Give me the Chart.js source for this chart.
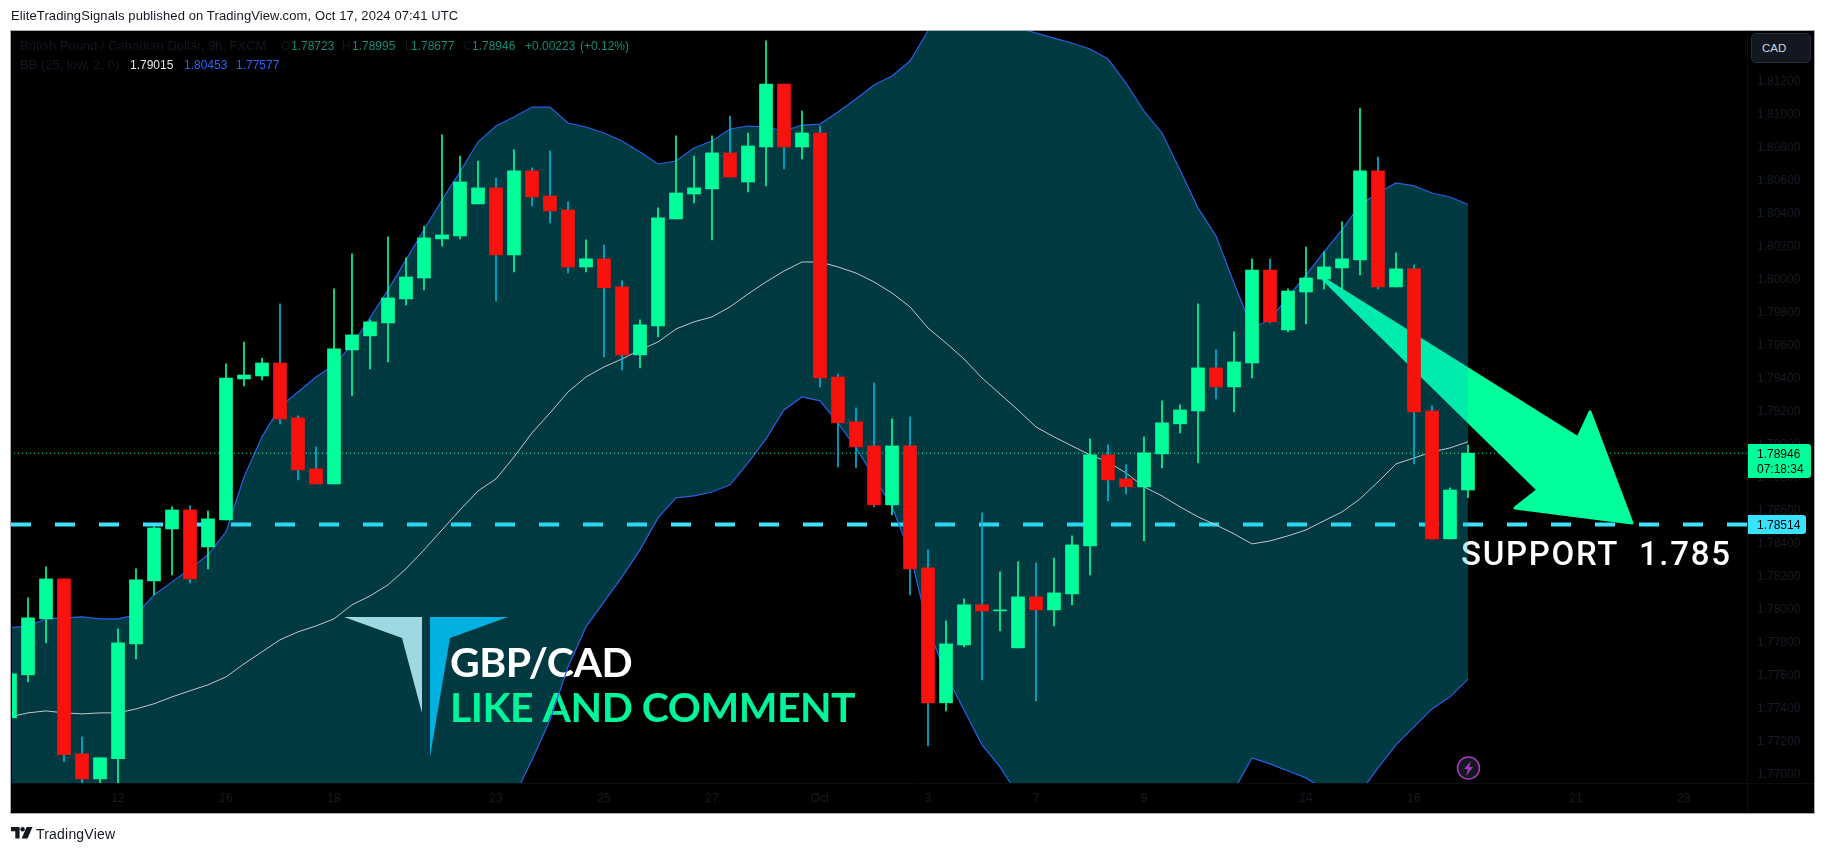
<!DOCTYPE html>
<html>
<head>
<meta charset="utf-8">
<title>GBP/CAD</title>
<script src="https://cdn.jsdelivr.net/npm/chart.js@4/dist/chart.umd.min.js"></script>
<style>
  html, body { margin: 0; padding: 0; background: #fff; overflow: hidden; }
  #wrap { position: relative; width: 1826px; height: 853px; font-family: "Liberation Sans", sans-serif; }
  #chart { position: absolute; left: 0; top: 0; }
  .t { position: absolute; white-space: pre; font-size: 12px; line-height: 16px; }
  .box { position: absolute; color: #000; font-size: 12px; }
  #cad { position: absolute; left: 1751px; top: 33px; width: 58px; height: 28px; background: #131722; border: 1px solid #2a2e39; border-radius: 5px; color: #d1d4dc; font-size: 11.5px; line-height: 28px; text-indent: 10px; }
  #tvlogo { position: absolute; left: 11px; top: 827px; }
</style>
</head>
<body>
<div id="wrap">
  <canvas id="chart" width="1826" height="853"></canvas>
  <div class="t" style="left:11px;top:8px;color:#131722;font-size:13px;letter-spacing:0.11px;">EliteTradingSignals published on TradingView.com, Oct 17, 2024 07:41 UTC</div>
  <div id="legend"></div>
  <div id="cad">CAD</div>
  <div class="box" style="left:1748px;top:444px;width:63px;height:34px;background:#00ff9b;border-radius:0 3px 3px 0;">
    <div style="position:absolute;left:9px;top:2px;line-height:16px;">1.78946</div>
    <div style="position:absolute;left:9px;top:17px;line-height:16px;">07:18:34</div>
  </div>
  <div class="box" style="left:1748px;top:515px;width:58px;height:19px;background:#38e3ff;border-radius:0 3px 3px 0;">
    <div style="position:absolute;left:9px;top:2px;line-height:16px;">1.78514</div>
  </div>
  <svg id="tvlogo" width="22" height="12" viewBox="0 0 22 12">
    <path d="M0 0h8.6v11.4H4.3V4.3H0z M15.6 0h5.9l-5 11.4H10.6z" fill="#131722"/>
    <circle cx="11.6" cy="2.2" r="2.2" fill="#131722"/>
  </svg>
  <div class="t" style="left:36px;top:826px;color:#131722;font-size:14px;letter-spacing:0.2px;">TradingView</div>
</div>
<script>
// GBP/CAD 9h candles
const opens = [1.77342,1.77603,1.77942,1.78184,1.77124,1.76972,1.77094,1.77790,1.78172,1.78487,1.78602,1.78378,1.78542,1.79396,1.79414,1.79493,1.79160,1.78851,1.78760,1.79572,1.79657,1.79736,1.79881,1.80008,1.80245,1.80263,1.80457,1.80554,1.80148,1.80657,1.80505,1.80420,1.80075,1.80124,1.79954,1.79542,1.79718,1.80366,1.80517,1.80548,1.80766,1.80590,1.80802,1.81184,1.80802,1.80887,1.79408,1.79136,1.78990,1.78633,1.78990,1.78251,1.77433,1.77784,1.78027,1.77990,1.77766,1.78075,1.77996,1.78093,1.78384,1.78936,1.78790,1.78742,1.78942,1.79124,1.79202,1.79463,1.79348,1.79493,1.80056,1.79693,1.79923,1.80002,1.80069,1.80118,1.80657,1.79954,1.80063,1.79202,1.78427,1.78723];
const highs = [1.77609,1.78069,1.78257,1.78184,1.77227,1.77100,1.77881,1.78245,1.78499,1.78621,1.78627,1.78596,1.79487,1.79620,1.79523,1.79851,1.79172,1.78984,1.79942,1.80154,1.79754,1.80257,1.80130,1.80323,1.80875,1.80747,1.80717,1.80614,1.80784,1.80675,1.80778,1.80469,1.80239,1.80208,1.79990,1.79754,1.80433,1.80869,1.80747,1.80869,1.80990,1.80887,1.81445,1.81184,1.81020,1.80929,1.79426,1.79221,1.79372,1.79154,1.79166,1.78360,1.77930,1.78063,1.78584,1.78227,1.78287,1.78281,1.78311,1.78445,1.79033,1.78996,1.78875,1.79045,1.79263,1.79239,1.79851,1.79572,1.79681,1.80124,1.80124,1.79942,1.80196,1.80166,1.80348,1.81038,1.80741,1.80160,1.80087,1.79233,1.78736,1.78995];
const lows = [1.77342,1.77560,1.77796,1.77076,1.76906,1.76900,1.76875,1.77699,1.78087,1.78208,1.78160,1.78245,1.78542,1.79354,1.79390,1.79124,1.78784,1.78760,1.78760,1.79293,1.79457,1.79499,1.79845,1.79936,1.80202,1.80245,1.80457,1.79869,1.80044,1.80445,1.80342,1.80038,1.80044,1.79529,1.79451,1.79463,1.79651,1.80366,1.80463,1.80239,1.80620,1.80529,1.80566,1.80669,1.80729,1.79348,1.78863,1.78857,1.78621,1.78572,1.78087,1.77172,1.77384,1.77772,1.77572,1.77869,1.77766,1.77445,1.77899,1.78027,1.78208,1.78657,1.78699,1.78415,1.78857,1.79069,1.78887,1.79275,1.79196,1.79402,1.79736,1.79681,1.79730,1.79942,1.79936,1.80026,1.79942,1.79954,1.78881,1.78427,1.78427,1.78677];
const closes = [1.77609,1.77948,1.78184,1.77118,1.76972,1.77100,1.77796,1.78178,1.78493,1.78602,1.78184,1.78548,1.79402,1.79420,1.79493,1.79154,1.78845,1.78760,1.79578,1.79663,1.79742,1.79887,1.80014,1.80251,1.80269,1.80590,1.80554,1.80148,1.80657,1.80499,1.80414,1.80075,1.80124,1.79948,1.79542,1.79724,1.80372,1.80523,1.80554,1.80766,1.80620,1.80808,1.81184,1.80802,1.80887,1.79402,1.79130,1.78984,1.78633,1.78990,1.78245,1.77433,1.77790,1.78027,1.77990,1.77996,1.78075,1.77996,1.78099,1.78390,1.78936,1.78784,1.78742,1.78948,1.79130,1.79208,1.79463,1.79348,1.79499,1.80056,1.79742,1.79929,1.80008,1.80075,1.80124,1.80657,1.79954,1.80063,1.79196,1.78427,1.78723,1.78946];

// Bollinger bands (25, low, 2, 0)
const bbUpper = [1.77887,1.77899,1.77942,1.77948,1.77954,1.77942,1.77942,1.77966,1.78087,1.78166,1.78245,1.78330,1.78469,1.78802,1.79045,1.79227,1.79317,1.79408,1.79481,1.79602,1.79766,1.79936,1.80118,1.80300,1.80481,1.80651,1.80832,1.80929,1.80984,1.81044,1.81044,1.80947,1.80923,1.80887,1.80838,1.80772,1.80699,1.80717,1.80796,1.80838,1.80911,1.80929,1.80923,1.80899,1.80935,1.80941,1.81014,1.81093,1.81178,1.81232,1.81323,1.81505,1.81626,1.81644,1.81626,1.81565,1.81523,1.81493,1.81462,1.81432,1.81396,1.81335,1.81190,1.81020,1.80887,1.80663,1.80433,1.80263,1.79978,1.79705,1.79754,1.79893,1.80026,1.80166,1.80300,1.80451,1.80523,1.80584,1.80566,1.80523,1.80499,1.80453];
const bbBasis = [1.77348,1.77372,1.77384,1.77372,1.77366,1.77372,1.77372,1.77396,1.77427,1.77469,1.77506,1.77542,1.77590,1.77669,1.77742,1.77815,1.77863,1.77899,1.77942,1.78027,1.78081,1.78148,1.78245,1.78360,1.78481,1.78602,1.78717,1.78790,1.78923,1.79069,1.79190,1.79317,1.79408,1.79469,1.79517,1.79572,1.79620,1.79699,1.79742,1.79772,1.79833,1.79911,1.79984,1.80050,1.80105,1.80105,1.80075,1.80038,1.79984,1.79917,1.79833,1.79705,1.79614,1.79517,1.79402,1.79305,1.79208,1.79105,1.79045,1.78990,1.78936,1.78893,1.78826,1.78742,1.78687,1.78621,1.78560,1.78511,1.78457,1.78396,1.78414,1.78445,1.78481,1.78536,1.78590,1.78669,1.78772,1.78881,1.78917,1.78954,1.78978,1.79015];
const bbLower = [1.76808,1.76845,1.76826,1.76796,1.76778,1.76802,1.76802,1.76826,1.76766,1.76772,1.76766,1.76754,1.76711,1.76535,1.76439,1.76402,1.76408,1.76390,1.76402,1.76450,1.76396,1.76360,1.76360,1.76420,1.76481,1.76553,1.76602,1.76650,1.76863,1.77087,1.77329,1.77650,1.77893,1.78045,1.78196,1.78360,1.78554,1.78675,1.78687,1.78711,1.78754,1.78887,1.79033,1.79208,1.79287,1.79263,1.79130,1.78978,1.78802,1.78621,1.78342,1.77887,1.77602,1.77390,1.77178,1.77045,1.76875,1.76754,1.76663,1.76572,1.76481,1.76445,1.76463,1.76463,1.76481,1.76572,1.76687,1.76784,1.76905,1.77099,1.77063,1.77020,1.76978,1.76905,1.76845,1.76887,1.77039,1.77178,1.77287,1.77396,1.77469,1.77577];

const priceTicks = [1.77,1.772,1.774,1.776,1.778,1.78,1.782,1.784,1.786,1.788,1.79,1.792,1.794,1.796,1.798,1.80,1.802,1.804,1.806,1.808,1.81,1.812];
const timeTickIndex = [6,12,18,27,33,39,45,51,57,63,72,78,87,93];
const timeTickLabels = ['12','16','18','23','25','27','Oct','3','7','9','14','16','21','23'];

const lastPrice = 1.78946;
const supportLevel = 1.78514;

// drawn arrow, in [candle index, price]
const arrowPoints = [[72.83,1.80014],[87.11,1.79039],[87.78,1.79196],[90.11,1.78523],[83.61,1.78614],[84.89,1.78723]];

// legend pieces: text, left, colour, font size
const legendRows = [
  [46, [['British Pound / Canadian Dollar, 9h, FXCM',20,'#131722',13],['O',281,'#131722',12],['1.78723',291,'#128a77',12],['H',342,'#131722',12],['1.78995',352,'#128a77',12],['L',405,'#131722',12],['1.78677',411,'#128a77',12],['C',463,'#131722',12],['1.78946',472,'#128a77',12],['+0.00223',525,'#128a77',12],['(+0.12%)',580,'#128a77',12]]],
  [65, [['BB (25, low, 2, 0)',20,'#131722',13],['1.79015',130,'#e6e6e6',12],['1.80453',184,'#2962ff',12],['1.77577',236,'#2962ff',12]]]
];

const UP = '#00ff9b';
const DOWN = '#f7120e';
const UP_WICK = '#00ff9b';
const DOWN_WICK = '#00b4d8';
const BAND_FILL = 'rgba(0,188,212,0.3)';
const BAND_LINE = '#2a5fe6';

const legend = document.getElementById('legend');
legendRows.forEach(([top, pieces]) => {
  pieces.forEach(([text, left, color, size]) => {
    const el = document.createElement('div');
    el.className = 't';
    el.textContent = text;
    el.style.cssText = `left:${left}px;top:${top - 8}px;color:${color};font-size:${size}px;`;
    legend.appendChild(el);
  });
});

const isUp = (i) => closes[i] >= opens[i];

function polygon(ctx, pts, fill) {
  ctx.beginPath();
  pts.forEach(([x, y], i) => (i ? ctx.lineTo(x, y) : ctx.moveTo(x, y)));
  ctx.closePath();
  ctx.fillStyle = fill;
  ctx.fill();
}

// black pane, plus what sits underneath the band fill: arrow, support line, label
const underBand = {
  id: 'underBand',
  beforeDraw(chart) {
    const { ctx, scales: { x, y }, chartArea: a } = chart;
    ctx.save();
    ctx.fillStyle = '#000';
    ctx.fillRect(11, 30, 1804, 783);
    ctx.strokeStyle = '#a9abb0';
    ctx.lineWidth = 1;
    ctx.strokeRect(10.5, 30.5, 1804, 783);
    ctx.strokeStyle = '#0c0d10';
    ctx.beginPath();
    ctx.moveTo(a.right + 0.5, 31); ctx.lineTo(a.right + 0.5, 813);
    ctx.moveTo(11, a.bottom + 0.5); ctx.lineTo(1814, a.bottom + 0.5);
    ctx.stroke();

    const ys = y.getPixelForValue(supportLevel);
    ctx.strokeStyle = '#3be3ff';
    ctx.lineWidth = 4;
    ctx.setLineDash([20, 24]);
    ctx.beginPath();
    ctx.moveTo(11, ys); ctx.lineTo(a.right, ys);
    ctx.stroke();
    ctx.setLineDash([]);

    const pts = arrowPoints.map(([i, p]) => [x.getPixelForValue(i), y.getPixelForValue(p)]);
    polygon(ctx, pts, UP);
    ctx.strokeStyle = UP;
    ctx.lineWidth = 3;
    ctx.lineJoin = 'round';
    ctx.stroke();

    ctx.fillStyle = '#fff';
    ctx.font = '500 33px Roboto';
    ctx.letterSpacing = '1.7px';
    ctx.textBaseline = 'alphabetic';
    ctx.fillText('SUPPORT  1.785', 1461, 565);
    ctx.restore();
  },
  // logo and caption sit above the fill but under the band lines
  beforeDatasetsDraw(chart) {
    const { ctx } = chart;
    ctx.save();
    polygon(ctx, [[344, 617], [422, 617], [422, 713], [402, 638]], '#a0d8e2');
    polygon(ctx, [[430, 617], [508, 617], [450, 638], [430, 757]], '#00b0e0');
    ctx.textBaseline = 'alphabetic';
    ctx.font = '700 41px Lato';
    ctx.letterSpacing = '-0.5px';
    ctx.fillStyle = '#fff';
    ctx.fillText('GBP/CAD', 450, 677);
    ctx.fillStyle = '#00f59b';
    ctx.fillText('LIKE AND COMMENT', 450, 722);
    ctx.letterSpacing = '0px';

    // lightning badge
    ctx.beginPath();
    ctx.arc(1468.5, 768, 11, 0, Math.PI * 2);
    ctx.fillStyle = '#131722';
    ctx.fill();
    ctx.strokeStyle = '#a63db8';
    ctx.lineWidth = 1.5;
    ctx.stroke();
    polygon(ctx, [[1471, 761], [1464, 769], [1468, 769], [1466, 776], [1473, 767], [1469, 767]], '#a63db8');
    ctx.restore();
  }
};

new Chart(document.getElementById('chart'), {
  type: 'bar',
  data: {
    datasets: [
      {
        label: 'Body',
        data: opens.map((o, i) => ({ x: i, y: [o, closes[i]] })),
        backgroundColor: (c) => (isUp(c.dataIndex) ? UP : DOWN),
        barThickness: 13,
        minBarLength: 1,
        grouped: false,
        order: 1,
      },
      {
        label: 'Wick',
        data: lows.map((l, i) => ({ x: i, y: [l, highs[i]] })),
        backgroundColor: (c) => (isUp(c.dataIndex) ? UP_WICK : DOWN_WICK),
        barThickness: 1,
        grouped: false,
        order: 2,
      },
      {
        type: 'line',
        label: 'Last',
        data: [{ x: 0, y: lastPrice }, { x: 97, y: lastPrice }],
        borderColor: UP,
        borderWidth: 1,
        borderDash: [1, 3],
        pointRadius: 0,
        order: 4,
      },
      {
        type: 'line',
        label: 'Basis',
        data: bbBasis.map((v, i) => ({ x: i, y: v })),
        borderColor: '#c4c6cc',
        borderWidth: 1,
        pointRadius: 0,
        tension: 0,
        order: 5,
      },
      {
        type: 'line',
        label: 'Upper',
        data: bbUpper.map((v, i) => ({ x: i, y: v })),
        borderColor: BAND_LINE,
        borderWidth: 1.2,
        backgroundColor: BAND_FILL,
        fill: 5,
        pointRadius: 0,
        tension: 0,
        order: 6,
      },
      {
        type: 'line',
        label: 'Lower',
        data: bbLower.map((v, i) => ({ x: i, y: v })),
        borderColor: BAND_LINE,
        borderWidth: 1.2,
        pointRadius: 0,
        tension: 0,
        order: 6,
      },
    ],
  },
  options: {
    responsive: false,
    animation: false,
    events: [],
    layout: { padding: { left: 12, top: 31, right: 11, bottom: 40 } },
    plugins: {
      legend: { display: false },
      tooltip: { enabled: false },
      filler: { propagate: false, drawTime: 'beforeDatasetsDraw' },
    },
    scales: {
      x: {
        type: 'linear',
        offset: false,
        min: 2 / 18,
        max: 96.5,
        afterFit(scale) { scale.height = 30; },
        afterBuildTicks(scale) { scale.ticks = timeTickIndex.map((v) => ({ value: v })); },
        grid: { display: false, drawTicks: false },
        border: { display: false },
        ticks: {
          autoSkip: false,
          maxRotation: 0,
          padding: 8,
          color: '#171b24',
          font: { family: 'Liberation Sans', size: 12 },
          callback: (v) => timeTickLabels[timeTickIndex.indexOf(v)],
        },
      },
      y: {
        type: 'linear',
        position: 'right',
        min: 1.76947,
        max: 1.81505,
        afterFit(scale) { scale.width = 68; },
        afterBuildTicks(scale) { scale.ticks = priceTicks.map((v) => ({ value: v })); },
        grid: { display: false, drawTicks: false },
        border: { display: false },
        ticks: {
          padding: 10,
          color: '#171b24',
          font: { family: 'Liberation Sans', size: 12 },
          callback: (v) => v.toFixed(5),
        },
      },
    },
  },
  plugins: [underBand],
});
</script>
</body>
</html>
